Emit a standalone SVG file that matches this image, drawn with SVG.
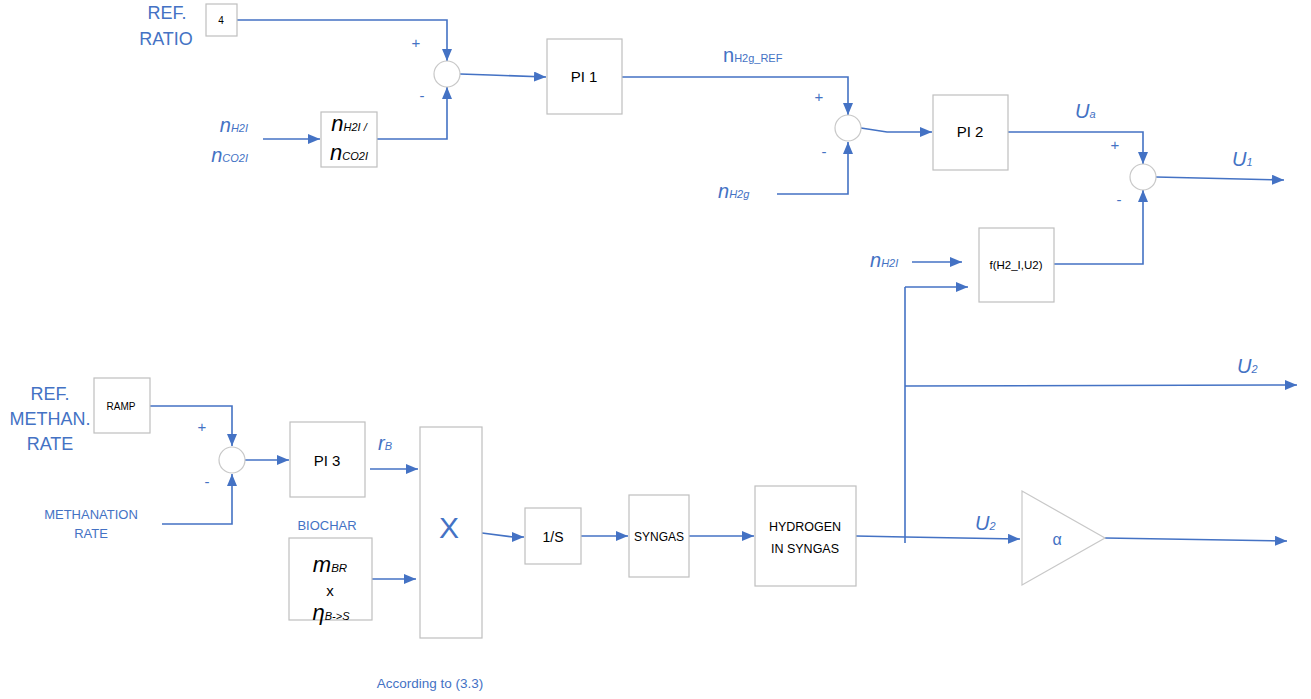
<svg xmlns="http://www.w3.org/2000/svg" width="1311" height="699" viewBox="0 0 1311 699">
<style>
text{font-family:"Liberation Sans",Arial,sans-serif}
.box{fill:#fff;stroke:#bfbfbf;stroke-width:1.2}
.sum{fill:#fff;stroke:#c8c8c8;stroke-width:1.2}
.w{fill:none;stroke:#4472c4;stroke-width:1.6}
.a{marker-end:url(#ah)}
.blk{fill:#000;text-anchor:middle}
.blu{fill:#4472c4}
.mid{text-anchor:middle}
.big{font-size:20px;font-style:italic}
.sub{font-size:11px;font-style:italic}
.sgn{fill:#4472c4;font-size:15px;text-anchor:middle}
</style>
<defs>
<marker id="ah" viewBox="0 0 12 10" refX="12" refY="5" markerWidth="12" markerHeight="10" markerUnits="userSpaceOnUse" orient="auto">
<path d="M0,0 L12,5 L0,10 z" fill="#4472c4"/>
</marker>
</defs>
<rect width="1311" height="699" fill="#fff"/>

<g id="connectors">
<polyline class="w a" points="237,20 447,20 447,61"/>
<polyline class="w a" points="263,139 320,139"/>
<polyline class="w a" points="377,139 447,139 447,87"/>
<polyline class="w a" points="460,74 490,75 546,77"/>
<polyline class="w a" points="622,77 848,77 848,115"/>
<polyline class="w a" points="777,194 848,194 848,142"/>
<polyline class="w a" points="861,128 887,132 932,132"/>
<polyline class="w a" points="1008,132 1143,132 1143,164"/>
<polyline class="w a" points="1156,177 1284,180"/>
<polyline class="w a" points="1054,264 1143,264 1143,190"/>
<polyline class="w a" points="912,262 962,262"/>
<polyline class="w" points="905,543 905,287"/>
<polyline class="w a" points="905,287 968,287"/>
<polyline class="w a" points="905,386 1297,385"/>
<polyline class="w a" points="150,406 232,406 232,446"/>
<polyline class="w a" points="162,524 232,524 232,474"/>
<polyline class="w a" points="245,460 289,460"/>
<polyline class="w a" points="370,469 418,469"/>
<polyline class="w a" points="372,579 416,579"/>
<polyline class="w a" points="482,533 513,537 524,537"/>
<polyline class="w a" points="581,536 628,536"/>
<polyline class="w a" points="689,536 754,536"/>
<polyline class="w a" points="856,536 905,537 1020,539"/>
<polyline class="w a" points="1105,538 1287,541"/>
</g>

<g id="ref-ratio-label">
<text class="blu mid" x="167" y="19" font-size="18">REF.</text>
<text class="blu mid" x="166" y="45" font-size="18">RATIO</text>
</g>
<g id="ref-ratio">
<rect class="box" x="206" y="4" width="31" height="32"/>
<text class="blk" x="221" y="24" font-size="10">4</text>
</g>
<g id="in-nH2I-nCO2I">
<text class="blu" x="248" y="132" text-anchor="end"><tspan class="big">n</tspan><tspan class="sub">H2I</tspan></text>
<text class="blu" x="248" y="162" text-anchor="end"><tspan class="big">n</tspan><tspan class="sub">CO2I</tspan></text>
</g>
<g id="ratio-block">
<rect class="box" x="321" y="112" width="56" height="55"/>
<text class="blk" x="349" y="131"><tspan font-size="22" font-style="italic">n</tspan><tspan font-size="11" font-style="italic">H2I /</tspan></text>
<text class="blk" x="349" y="160"><tspan font-size="22" font-style="italic">n</tspan><tspan font-size="11" font-style="italic">CO2I</tspan></text>
</g>
<g id="sum1">
<circle class="sum" cx="447" cy="74" r="13"/>
<text class="sgn" x="416" y="48">+</text>
<text class="sgn" x="422" y="101">-</text>
</g>
<g id="pi1">
<rect class="box" x="547" y="39" width="75" height="75"/>
<text class="blk" x="584" y="82" font-size="15">PI 1</text>
</g>
<g id="lbl-nH2g-ref">
<text class="blu" x="723" y="62"><tspan font-size="20">n</tspan><tspan font-size="11">H2g_REF</tspan></text>
</g>
<g id="sum2">
<circle class="sum" cx="848" cy="128" r="13"/>
<text class="sgn" x="819" y="102">+</text>
<text class="sgn" x="824" y="157">-</text>
</g>
<g id="in-nH2g">
<text class="blu" x="718" y="198"><tspan class="big">n</tspan><tspan class="sub">H2g</tspan></text>
</g>
<g id="pi2">
<rect class="box" x="933" y="95" width="75" height="75"/>
<text class="blk" x="970" y="137" font-size="15">PI 2</text>
</g>
<g id="lbl-Ua">
<text class="blu" x="1075" y="118"><tspan class="big">U</tspan><tspan class="sub">a</tspan></text>
</g>
<g id="sum3">
<circle class="sum" cx="1143" cy="177" r="13"/>
<text class="sgn" x="1115" y="150">+</text>
<text class="sgn" x="1119" y="205">-</text>
</g>
<g id="out-U1">
<text class="blu" x="1232" y="166"><tspan class="big">U</tspan><tspan class="sub">1</tspan></text>
</g>
<g id="in-nH2I-right">
<text class="blu" x="870" y="267"><tspan class="big">n</tspan><tspan class="sub">H2I</tspan></text>
</g>
<g id="f-block">
<rect class="box" x="979" y="228" width="75" height="74"/>
<text class="blk" x="1016" y="269" font-size="11.5">f(H2_I,U2)</text>
</g>
<g id="out-U2-upper">
<text class="blu" x="1237" y="373"><tspan class="big">U</tspan><tspan class="sub">2</tspan></text>
</g>

<g id="ref-meth-label">
<text class="blu mid" x="50" y="400" font-size="18">REF.</text>
<text class="blu mid" x="50" y="425" font-size="18">METHAN.</text>
<text class="blu mid" x="50" y="450" font-size="18">RATE</text>
</g>
<g id="ramp">
<rect class="box" x="94" y="378" width="56" height="55"/>
<text class="blk" x="121" y="410" font-size="10">RAMP</text>
</g>
<g id="in-meth-rate">
<text class="blu mid" x="91" y="519" font-size="13">METHANATION</text>
<text class="blu mid" x="91" y="538" font-size="13">RATE</text>
</g>
<g id="sum4">
<circle class="sum" cx="232" cy="460" r="13"/>
<text class="sgn" x="202" y="432">+</text>
<text class="sgn" x="207" y="487">-</text>
</g>
<g id="pi3">
<rect class="box" x="290" y="422" width="75" height="75"/>
<text class="blk" x="327" y="466" font-size="15">PI 3</text>
</g>
<g id="lbl-rB">
<text class="blu" x="378" y="450"><tspan class="big">r</tspan><tspan class="sub">B</tspan></text>
</g>
<g id="biochar-label">
<text class="blu mid" x="327" y="530" font-size="13">BIOCHAR</text>
</g>
<g id="biochar">
<rect class="box" x="289" y="538" width="83" height="82"/>
<text class="blk" x="330" y="572"><tspan font-size="22" font-style="italic">m</tspan><tspan font-size="11.5" font-style="italic">BR</tspan></text>
<text class="blk" x="330" y="596" font-size="15">x</text>
<text class="blk" x="331" y="620"><tspan font-size="22" font-style="italic">η</tspan><tspan font-size="11" font-style="italic">B-&gt;S</tspan></text>
</g>
<g id="mult">
<rect class="box" x="420" y="427" width="62" height="211"/>
<text class="blu mid" x="449" y="538" font-size="30">X</text>
</g>
<g id="note">
<text class="blu mid" x="430" y="688" font-size="13.5">According to (3.3)</text>
</g>
<g id="integrator">
<rect class="box" x="525" y="508" width="56" height="56"/>
<text class="blk" x="553" y="542" font-size="14">1/S</text>
</g>
<g id="syngas">
<rect class="box" x="629" y="495" width="60" height="82"/>
<text class="blk" x="659" y="541" font-size="12">SYNGAS</text>
</g>
<g id="hydrogen">
<rect class="box" x="755" y="486" width="101" height="100"/>
<text class="blk" x="805" y="531" font-size="12.5">HYDROGEN</text>
<text class="blk" x="805" y="553" font-size="12.5">IN SYNGAS</text>
</g>
<g id="lbl-U2-lower">
<text class="blu" x="975" y="530"><tspan class="big">U</tspan><tspan class="sub">2</tspan></text>
</g>
<g id="gain">
<polygon points="1022,491 1022,585 1105,538" fill="#fff" stroke="#c8c8c8" stroke-width="1.2"/>
<text class="blu mid" x="1057" y="545" font-size="16">α</text>
</g>
</svg>
